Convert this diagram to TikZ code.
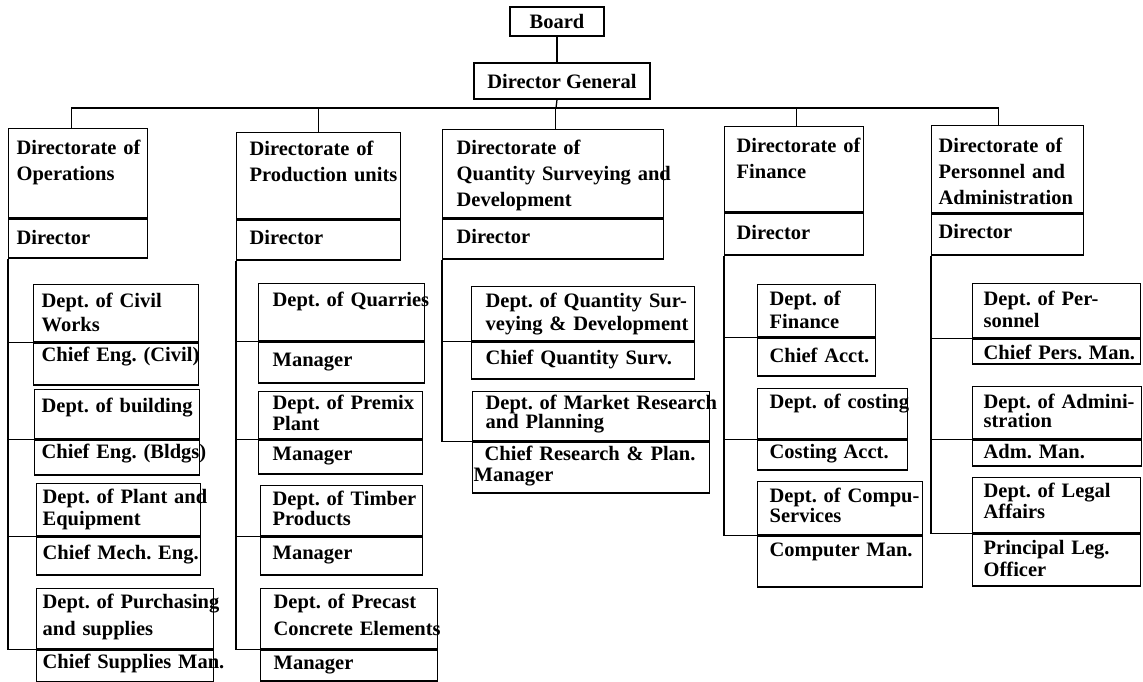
\documentclass[tikz,border=0pt]{standalone}
\usepackage{fontspec}
\setmainfont{Liberation Serif}
\newcommand\orgfont{\fontsize{20.5}{22}\selectfont\bfseries\frenchspacing}
\newcommand\dirfont{\fontsize{20.5}{26}\selectfont\bfseries\frenchspacing}
\tikzset{
  inset/.initial=12pt,
  unit/.style={draw, anchor=north west, inner xsep=0pt, inner ysep=0pt, align=left, font=\orgfont,
    execute at begin node={\leftskip=\pgfkeysvalueof{/tikz/inset}\relax\rightskip=-40pt plus 1fil\relax}},
  box/.style n args={3}{text width=#1pt, text height=#2pt, text depth=#3pt-#2pt},
  head/.style={draw, inner sep=0pt, font=\orgfont},
}
\begin{document}
\begin{tikzpicture}[x=1pt,y=1pt,line width=1.3pt]
    \useasboundingbox (0,0) rectangle (1143,-682);
    % top of the chart
    \node[head, minimum width=94pt, minimum height=29pt] (board) at (557,-21.5) {Board};
    \node[head, minimum width=176pt, minimum height=36pt] (dg) at (562,-81) {Director General};
    \coordinate (bus) at (556,-108);
    % directorates
    \node[unit, font=\dirfont, inset=8pt, box={139}{26}{89}] (ops) at (8,-128) {Directorate of\\Operations};
    \node[unit, inset=8pt, box={139}{26}{39}] (opsdir) at (ops.south west) {Director};
    \node[unit, font=\dirfont, inset=13pt, box={164}{23}{86}] (prod) at (236,-132) {Directorate of\\Production units};
    \node[unit, inset=13pt, box={164}{25}{40}] (proddir) at (prod.south west) {Director};
    \node[unit, font=\dirfont, inset=14pt, box={221}{25}{88}] (qs) at (442,-129) {Directorate of\\Quantity Surveying and\\Development};
    \node[unit, inset=14pt, box={221}{25}{40}] (qsdir) at (qs.south west) {Director};
    \node[unit, font=\dirfont, inset=12pt, box={139}{26}{85}] (fin) at (724,-126) {Directorate of\\Finance};
    \node[unit, inset=12pt, box={139}{27}{42}] (findir) at (fin.south west) {Director};
    \node[unit, font=\dirfont, inset=7pt, box={152}{27}{87}] (pers) at (931,-125) {Directorate of\\Personnel and\\Administration};
    \node[unit, inset=7pt, box={152}{25}{41}] (persdir) at (pers.south west) {Director};
    % operations
    \node[unit, inset=8pt, box={165}{23}{57}] (civil) at (33,-284) {Dept. of Civil\\[2pt]Works};
    \node[unit, inset=8pt, box={165}{19}{42}] (civilhead) at (civil.south west) {Chief Eng. (Civil)};
    \node[unit, inset=7pt, box={165}{23}{49}] (bldg) at (34,-389) {Dept. of building};
    \node[unit, inset=7pt, box={165}{19}{35}] (bldghead) at (bldg.south west) {Chief Eng. (Bldgs)};
    \node[unit, inset=6pt, box={164}{20}{52}] (plant) at (36,-483) {Dept. of Plant and\\Equipment};
    \node[unit, inset=6pt, box={164}{23}{38}] (planthead) at (plant.south west) {Chief Mech. Eng.};
    \node[unit, inset=6pt, box={177}{20}{60}] (purch) at (36,-588) {Dept. of Purchasing\\[5pt]and supplies};
    \node[unit, inset=6pt, box={177}{19}{32}] (purchhead) at (purch.south west) {Chief Supplies Man.};
    % production units
    \node[unit, inset=14pt, box={166}{23}{57}] (quar) at (258,-283) {Dept. of Quarries};
    \node[unit, inset=14pt, box={166}{25}{41}] (quarhead) at (quar.south west) {Manager};
    \node[unit, inset=14pt, box={164}{18}{47}] (premix) at (258,-391) {Dept. of Premix\\[-1pt]Plant};
    \node[unit, inset=14pt, box={164}{21}{34}] (premixhead) at (premix.south west) {Manager};
    \node[unit, inset=12pt, box={162}{20}{50}] (timber) at (260,-485) {Dept. of Timber\\[-2pt]Products};
    \node[unit, inset=12pt, box={162}{23}{38}] (timberhead) at (timber.south west) {Manager};
    \node[unit, inset=13pt, box={177}{20}{60}] (precast) at (260,-588) {Dept. of Precast\\[5pt]Concrete Elements};
    \node[unit, inset=13pt, box={177}{20}{31}] (precasthead) at (precast.south west) {Manager};
    % quantity surveying
    \node[unit, inset=14pt, box={223}{21}{54}] (qsd) at (471,-286) {Dept. of Quantity Sur-\\[1pt]veying \& Development};
    \node[unit, inset=14pt, box={223}{23}{37}] (qsdhead) at (qsd.south west) {Chief Quantity Surv.};
    \node[unit, inset=13pt, box={237}{18}{49}] (market) at (472,-391) {Dept. of Market Research\\[-3pt]and Planning};
    \node[unit, inset=1pt, box={237}{19}{51}] (markethead) at (market.south west) {\hspace*{11pt}Chief Research \& Plan.\\[-1pt]Manager};
    % finance
    \node[unit, box={118}{21}{52}] (find) at (757,-284) {Dept. of\\[1pt]Finance};
    \node[unit, box={118}{25}{38}] (findhead) at (find.south west) {Chief Acct.};
    \node[unit, box={150}{20}{50}] (cost) at (757,-388) {Dept. of costing};
    \node[unit, box={150}{19}{30}] (costhead) at (cost.south west) {Costing Acct.};
    \node[unit, box={165}{21}{53}] (compu) at (757,-481) {Dept. of Compu-\\[-2pt]Services};
    \node[unit, box={165}{21}{51}] (compuhead) at (compu.south west) {Computer Man.};
    % personnel and administration
    \node[unit, inset=11pt, box={168}{22}{54}] (persd) at (972,-283) {Dept. of Per-\\sonnel};
    \node[unit, inset=11pt, box={168}{21}{25}] (persdhead) at (persd.south west) {Chief Pers. Man.};
    \node[unit, inset=11pt, box={169}{22}{52}] (admin) at (972,-386) {Dept. of Admini-\\[-3pt]stration};
    \node[unit, inset=11pt, box={169}{19}{26}] (adminhead) at (admin.south west) {Adm. Man.};
    \node[unit, inset=11pt, box={168}{20}{55}] (legal) at (972,-477) {Dept. of Legal\\[-1pt]Affairs};
    \node[unit, inset=11pt, box={168}{21}{52}] (legalhead) at (legal.south west) {Principal Leg.\\Officer};
    % lines
    \draw (board) -- (board |- dg.north);
    \draw (dg.south -| board) -- (bus);
    \draw ([xshift=-7pt]ops.north) |- (bus) -| ([xshift=-9pt]pers.north);
    \draw (prod.north) -- (prod.north |- bus);
    \draw ([xshift=2pt]qs.north) -- ([xshift=2pt]qs.north |- bus);
    \draw ([xshift=2pt]fin.north) -- ([xshift=2pt]fin.north |- bus);
    \draw (opsdir.south west) |- (purch.south west);
    \draw (opsdir.south west |- civil.south west) -- (civil.south west);
    \draw (opsdir.south west |- bldg.south west) -- (bldg.south west);
    \draw (opsdir.south west |- plant.south west) -- (plant.south west);
    \draw (proddir.south west) |- (precast.south west);
    \draw (proddir.south west |- quar.south west) -- (quar.south west);
    \draw (proddir.south west |- premix.south west) -- (premix.south west);
    \draw (proddir.south west |- timber.south west) -- (timber.south west);
    \draw (qsdir.south west) |- (market.south west);
    \draw (qsdir.south west |- qsd.south west) -- (qsd.south west);
    \draw (findir.south west) |- (compu.south west);
    \draw (findir.south west |- find.south west) -- (find.south west);
    \draw (findir.south west |- cost.south west) -- (cost.south west);
    \draw (persdir.south west) |- (legal.south west);
    \draw (persdir.south west |- persd.south west) -- (persd.south west);
    \draw (persdir.south west |- admin.south west) -- (admin.south west);
\end{tikzpicture}
\end{document}
